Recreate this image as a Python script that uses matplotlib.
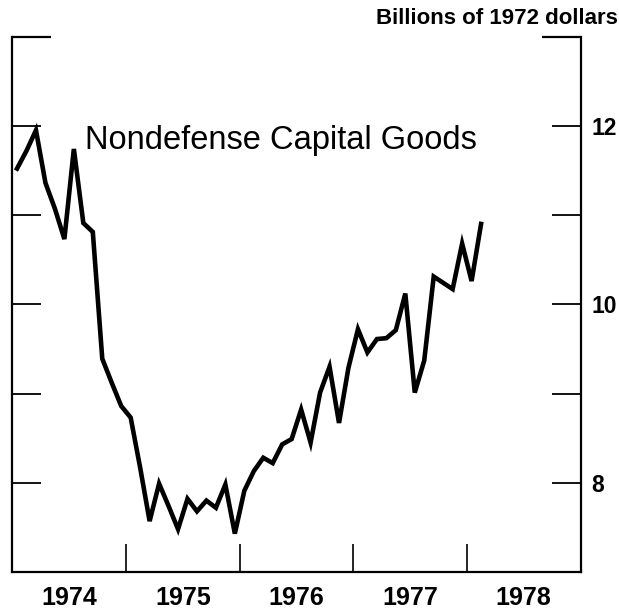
import matplotlib
matplotlib.use("Agg")
import matplotlib.pyplot as plt
import numpy as np

plt.rcParams['font.family'] = ['Liberation Sans', 'DejaVu Sans']

# Monthly data, Jan 1974 - Feb 1978 (billions of 1972 dollars)
start_year = 1974
values = [11.52, 11.72, 11.95, 11.36, 11.07, 10.73, 11.74, 10.91, 10.81, 9.39,
          9.12, 8.86, 8.73, 8.17, 7.57, 7.99, 7.74, 7.48, 7.82, 7.68,
          7.80, 7.72, 7.98, 7.43, 7.91, 8.13, 8.28, 8.22, 8.43, 8.49,
          8.82, 8.45, 9.01, 9.30, 8.67, 9.29, 9.72, 9.46, 9.61, 9.62,
          9.71, 10.12, 9.01, 9.37, 10.31, 10.24, 10.17, 10.68, 10.26, 10.90]
year_labels = ['1974', '1975', '1976', '1977', '1978']
year_ticks = [1975, 1976, 1977, 1978]
y_labeled = [8, 10, 12]
y_ticks = [8, 9, 10, 11, 12]
title = 'Nondefense Capital Goods'
unit = 'Billions of 1972 dollars'

x = start_year + (np.arange(len(values)) + 0.5) / 12.0

fig = plt.figure(figsize=(6.19, 6.10), dpi=100)
ax = fig.add_axes([12.3 / 619, 38 / 610, (580.5 - 12.3) / 619, (573.5 - 38) / 610])

ax.plot(x, values, color='black', linewidth=3.3, solid_joinstyle='miter')

ax.set_xlim(1974, 1979)
ax.set_ylim(7, 13)

for s in ['left', 'right', 'bottom']:
    ax.spines[s].set_linewidth(1.6)
ax.spines['top'].set_visible(False)

# x ticks: marks at year boundaries, labels at year centers
ax.set_xticks(year_ticks)
ax.set_xticklabels([])
ax.set_xticks([1974.5 + i for i in range(len(year_labels))], minor=True)
ax.set_xticklabels(year_labels, minor=True, fontsize=18, fontweight='bold')
ax.tick_params(axis='x', which='major', direction='in', length=20, width=1.2)
ax.tick_params(axis='x', which='minor', length=0, pad=10)

# y ticks on both sides, labels on right only
ax.set_yticks(y_ticks)
ax.set_yticklabels([str(v) if v in y_labeled else '' for v in y_ticks],
                   fontsize=16.5, fontweight='bold')
ax.set_yticks([13], minor=True)
ax.tick_params(axis='y', which='major', direction='in', length=21, width=1.3,
               left=True, right=True, labelleft=False, labelright=True, pad=8)
ax.tick_params(axis='y', which='minor', direction='in', length=28, width=1.6,
               left=True, right=True, labelleft=False, labelright=False)

ax.text(1974.64, 11.83, title, fontsize=23.5, ha='left', va='center')

fig.text(618 / 619, 1 - 18 / 610, unit, fontsize=16, fontweight='bold',
         ha='right', va='center')

fig.savefig('out.png', dpi=100)
